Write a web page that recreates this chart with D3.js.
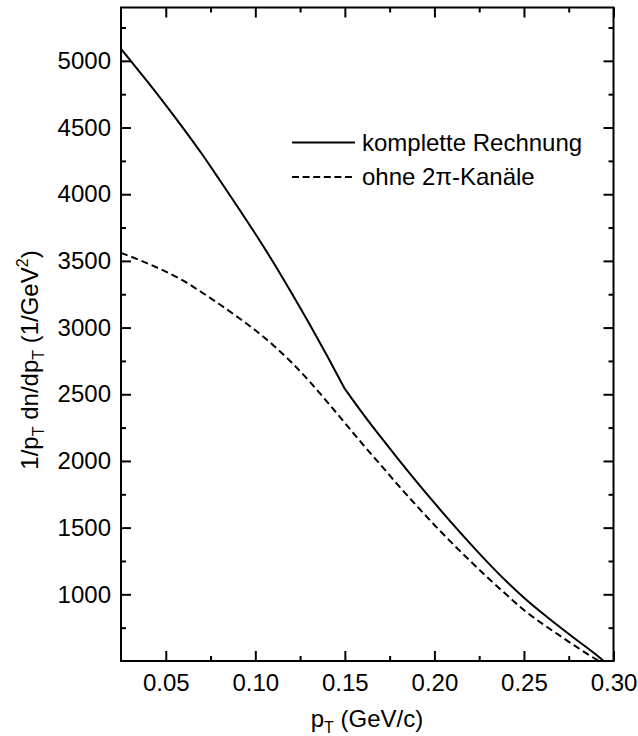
<!DOCTYPE html>
<html><head><meta charset="utf-8">
<script src="https://cdn.jsdelivr.net/npm/d3@7"></script>
<style>body{margin:0;background:#fff}svg{display:block}text{font-family:"Liberation Sans",Arial,sans-serif;fill:#000}</style>
</head><body>
<script>
const pT = [0.025,0.03,0.04,0.05,0.06,0.07,0.08,0.09,0.10,0.11,0.12,0.13,0.14,0.15,0.16,0.17,0.18,0.19,0.20,0.21,0.22,0.23,0.24,0.25,0.26,0.27,0.28,0.29,0.2945];
const komplette = [5090,5007,4840,4668,4490,4305,4108,3908,3703,3490,3265,3032,2790,2540,2355,2180,2010,1845,1685,1530,1380,1236,1100,975,862,755,652,550,500];
const pT2 = [0.025,0.03,0.04,0.05,0.06,0.07,0.08,0.09,0.10,0.11,0.12,0.13,0.14,0.15,0.16,0.17,0.18,0.19,0.20,0.21,0.22,0.23,0.24,0.25,0.26,0.27,0.28,0.29,0.292];
const ohne = [3560,3535,3480,3420,3350,3265,3175,3080,2980,2868,2742,2600,2445,2285,2125,1970,1815,1665,1520,1382,1250,1122,1000,882,782,690,600,515,500];
const xTicks = [0.05,0.10,0.15,0.20,0.25,0.30];
const xMinor = [0.075,0.125,0.175,0.225,0.275];
const yTicks = [1000,1500,2000,2500,3000,3500,4000,4500,5000];
const yMinor = [750,1250,1750,2250,2750,3250,3750,4250,4750,5250];
const legendLabels = ["komplette Rechnung","ohne 2π-Kanäle"];
const kinkAt = 0.15;

const W=638,H=736;
const L=121,R=613.5,T=7.5,B=661;
const x=d3.scaleLinear().domain([0.025,0.30]).range([L,R]);
const y=d3.scaleLinear().domain([500,5400]).range([B,T]);
const svg=d3.select("body").append("svg").attr("width",W).attr("height",H);
const fs=24, sub=16;

svg.append("clipPath").attr("id","c").append("rect").attr("x",L).attr("y",T).attr("width",R-L).attr("height",B-T);

const line=d3.line().x(d=>x(d[0])).y(d=>y(d[1])).curve(d3.curveMonotoneX);
const g=svg.append("g").attr("clip-path","url(#c)");
const solid=pT.map((p,i)=>[p,komplette[i]]);
// solid curve has a kink at pT = 0.15: draw both pieces smoothly, joined at the kink
[solid.filter(d=>d[0]<=kinkAt), solid.filter(d=>d[0]>=kinkAt)].forEach(seg=>{
 g.append("path").datum(seg).attr("d",line).attr("fill","none").attr("stroke","#000").attr("stroke-width",2).attr("stroke-linejoin","round");
});
g.append("path").datum(pT2.map((p,i)=>[p,ohne[i]])).attr("d",line).attr("fill","none").attr("stroke","#000").attr("stroke-width",2).attr("stroke-dasharray","7,4");

// axes
const axB=d3.axisBottom(x).tickValues(xTicks).tickSize(-10).tickPadding(13).tickFormat(d3.format(".2f"));
const axBm=d3.axisBottom(x).tickValues(xMinor).tickSize(-5).tickFormat("");
const axT=d3.axisTop(x).tickValues(xTicks).tickSize(-10).tickFormat("");
const axTm=d3.axisTop(x).tickValues(xMinor).tickSize(-5).tickFormat("");
const axL=d3.axisLeft(y).tickValues(yTicks).tickSize(-10).tickPadding(10).tickFormat(d3.format("d"));
const axLm=d3.axisLeft(y).tickValues(yMinor).tickSize(-5).tickFormat("");
const axR=d3.axisRight(y).tickValues(yTicks).tickSize(-10).tickFormat("");
const axRm=d3.axisRight(y).tickValues(yMinor).tickSize(-5).tickFormat("");
function put(ax,tr){const a=svg.append("g").attr("transform",tr).call(ax);
 a.select(".domain").remove();a.selectAll("line").attr("stroke","#000").attr("stroke-width",2);
 a.selectAll("text").style("font-size",fs+"px").attr("font-family","Liberation Sans, Arial, sans-serif");return a;}
put(axB,`translate(0,${B})`);put(axBm,`translate(0,${B})`);
put(axT,`translate(0,${T})`);put(axTm,`translate(0,${T})`);
put(axL,`translate(${L},0)`);put(axLm,`translate(${L},0)`);
put(axR,`translate(${R},0)`);put(axRm,`translate(${R},0)`);
svg.append("rect").attr("x",L).attr("y",T).attr("width",R-L).attr("height",B-T).attr("fill","none").attr("stroke","#000").attr("stroke-width",2);

// legend
const ly=[142.5,177], lb=[151,184.5];
legendLabels.forEach((t,i)=>{
 svg.append("line").attr("x1",292).attr("x2",355).attr("y1",ly[i]).attr("y2",ly[i]).attr("stroke","#000").attr("stroke-width",2).attr("stroke-dasharray",i?"7,3.6":null);
 svg.append("text").attr("x",362).attr("y",lb[i]).style("font-size",fs+"px").text(t);
});

// x label
const xl=svg.append("text").attr("x",367).attr("y",727).attr("text-anchor","middle").style("font-size",fs+"px");
xl.append("tspan").text("p");
xl.append("tspan").attr("dy",6).style("font-size",sub+"px").text("T");
xl.append("tspan").attr("dy",-6).text(" (GeV/c)");

// y label
const yl=svg.append("text").attr("transform","translate(38,360) rotate(-90)").attr("text-anchor","middle").style("font-size",fs+"px");
yl.append("tspan").text("1/p");
yl.append("tspan").attr("dy",6).style("font-size",sub+"px").text("T");
yl.append("tspan").attr("dy",-6).text(" dn/dp");
yl.append("tspan").attr("dy",6).style("font-size",sub+"px").text("T");
yl.append("tspan").attr("dy",-6).text(" (1/GeV");
yl.append("tspan").attr("dy",-10).style("font-size",sub+"px").text("2");
yl.append("tspan").attr("dy",10).text(")");
</script>
</body></html>
